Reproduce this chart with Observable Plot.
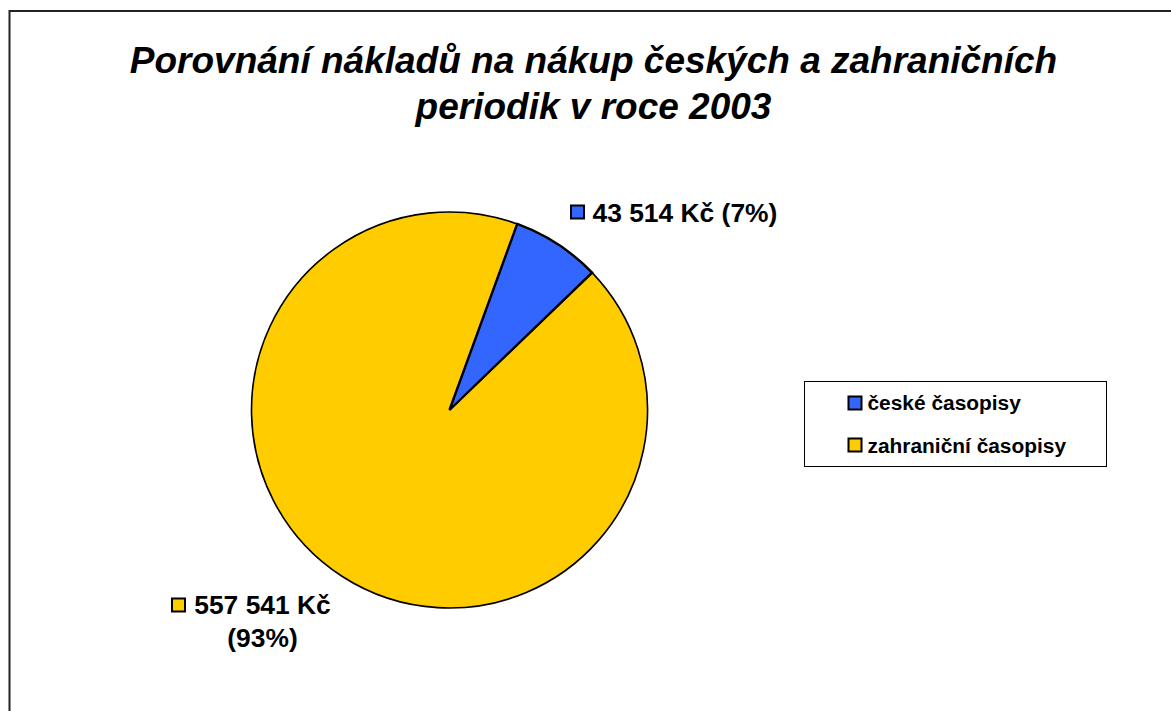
<!DOCTYPE html>
<html>
<head>
<meta charset="utf-8">
<script src="https://cdn.jsdelivr.net/npm/d3@7"></script>
<script src="https://cdn.jsdelivr.net/npm/@observablehq/plot@0.6"></script>
<style>
  html, body { margin: 0; padding: 0; background: #fff; }
  svg { display: block; }
</style>
</head>
<body>
<div id="chart"></div>
<script>
// ---- data ----
const categories = ["české časopisy", "zahraniční časopisy"];
const values = [43514, 557541];
const colors = ["#3366FF", "#FFCC00"];
const valueLabels = ["43 514 Kč (7%)", "557 541 Kč\n(93%)"];
const titleLines = ["Porovnání nákladů na nákup českých a zahraničních", "periodik v roce 2003"];

// ---- layout ----
const W = 1171, H = 711;
const CX = 449.5, CY = 410, R = 198;
const START = 20 * Math.PI / 180;
const FONT = "'Liberation Sans', Arial, Helvetica, sans-serif";

const color = Plot.scale({color: {type: "ordinal", domain: categories, range: colors}});

function pieMark(index, scales, vals, dims, context) {
  const cx = scales.x(0), cy = scales.y(0), r = scales.x(1) - scales.x(0);
  const arcs = d3.pie().sort(null).startAngle(START).endAngle(START + 2 * Math.PI)(values);
  const arc = d3.arc().innerRadius(0).outerRadius(r);
  const g = d3.create("svg:g").attr("transform", `translate(${cx},${cy})`);
  // draw the large slice first, then the small one on top
  const order = arcs.map((a, i) => i).sort((a, b) => values[b] - values[a]);
  for (const i of order) {
    g.append("path")
      .attr("d", arc(arcs[i]))
      .attr("fill", color.apply(categories[i]))
      .attr("stroke", "#000")
      .attr("stroke-width", values[i] === d3.min(values) ? 2.4 : 1.6)
      .attr("stroke-linejoin", "miter");
  }
  return g.node();
}

function keyBox(g, x, y, fill) {
  g.append("rect").attr("x", x).attr("y", y).attr("width", 13).attr("height", 13)
    .attr("fill", fill).attr("stroke", "#000").attr("stroke-width", 2);
}

function keysMark() {
  const g = d3.create("svg:g");
  // pie label keys
  keyBox(g, 571, 205.5, color.apply(categories[0]));
  keyBox(g, 172, 598.5, color.apply(categories[1]));
  // legend
  g.append("rect").attr("x", 804.5).attr("y", 381.5).attr("width", 302).attr("height", 85)
    .attr("fill", "#fff").attr("stroke", "#000").attr("stroke-width", 1);
  categories.forEach((c, i) => keyBox(g, 848.5, 396.5 + i * 42, color.apply(c)));
  return g.node();
}

const textBase = {fontFamily: FONT, fontWeight: "bold", fill: "#000", frameAnchor: "top-left", lineAnchor: "bottom", text: d => d};

const chart = Plot.plot({
  width: W,
  height: H,
  margin: 0,
  style: {background: "#fff", overflow: "visible"},
  x: {domain: [-1, 1], range: [CX - R, CX + R], axis: null},
  y: {domain: [-1, 1], range: [CY + R, CY - R], axis: null},
  marks: [
    Plot.frame({stroke: "#222", strokeWidth: 2, insetLeft: 9, insetTop: 10.5, insetRight: -10, insetBottom: -10}),
    pieMark,
    keysMark,
    // title
    Plot.text([titleLines.join("\n")], {...textBase, fontStyle: "italic", fontSize: 37, lineHeight: 1.24, textAnchor: "middle", dx: 593, dy: 118}),
    // data labels
    Plot.text([valueLabels[0]], {...textBase, fontSize: 26.4, textAnchor: "start", dx: 592, dy: 221}),
    Plot.text([valueLabels[1]], {...textBase, fontSize: 26.4, lineHeight: 1.25, textAnchor: "middle", dx: 262, dy: 646}),
    // legend text
    ...categories.map((c, i) => Plot.text([c], {...textBase, fontSize: 20.9, textAnchor: "start", dx: 867, dy: 409 + i * 43}))
  ]
});

document.getElementById("chart").appendChild(chart);
</script>
</body>
</html>
